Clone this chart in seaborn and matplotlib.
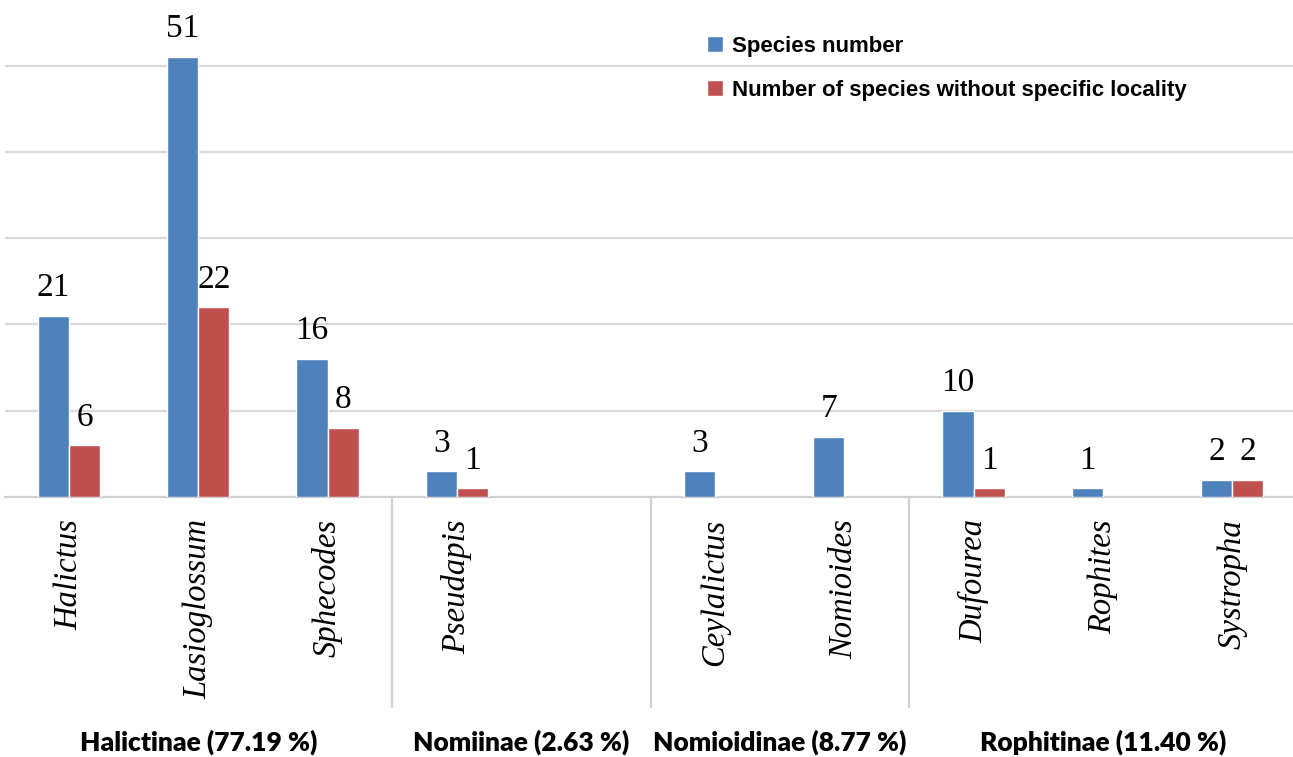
import matplotlib
matplotlib.use("Agg")
import matplotlib.pyplot as plt
import matplotlib.transforms as mtransforms
import seaborn as sns
import pandas as pd

# Genera of Halictidae and their species counts
genera = ["Halictus", "Lasioglossum", "Sphecodes", "Pseudapis", "",
          "Ceylalictus", "Nomioides", "Dufourea", "Rophites", "Systropha"]
species_number = [21, 51, 16, 3, None, 3, 7, 10, 1, 2]
without_locality = [6, 22, 8, 1, None, 0, 0, 1, 0, 2]

series_names = ["Species number", "Number of species without specific locality"]
series_colors = ["#4F81BD", "#C0504D"]

# Subfamilies: label and the span of genus slots they cover
subfamilies = ["Halictinae (77.19 %)", "Nomiinae (2.63 %)",
               "Nomioidinae (8.77 %)", "Rophitinae (11.40 %)"]
subfamily_spans = [(0, 2), (3, 4), (5, 6), (7, 9)]

rows = []
for g, a, b in zip(genera, species_number, without_locality):
    for name, v in zip(series_names, (a, b)):
        if v:
            rows.append({"genus": g, "series": name, "count": v})
df = pd.DataFrame(rows)

sns.set_style("white")
plt.rcParams["text.color"] = "black"
plt.rcParams["xtick.color"] = "black"
W, H = 1293, 757
fig = plt.figure(figsize=(W / 100, H / 100), dpi=100)
ax_left, ax_right, ax_bottom = 4.5, 1296.5, 497
ax = fig.add_axes([ax_left / W, (H - ax_bottom) / H,
                   (ax_right - ax_left) / W, ax_bottom / H])

sns.barplot(data=df, x="genus", y="count", hue="series", order=genera,
            hue_order=series_names, palette=series_colors, width=0.48,
            saturation=1, ax=ax, legend=True, zorder=3)

ax.set_xlim(-0.5, len(genera) - 0.5)
ax.set_ylim(0, 57.6)
ax.set_yticks([10, 20, 30, 40, 50])
ax.set_yticklabels([])
ax.yaxis.grid(True, color="#D9D9D9", linewidth=1.6, zorder=0)
ax.set_axisbelow(True)
ax.tick_params(axis="both", length=0)
for side in ("top", "right", "left"):
    ax.spines[side].set_visible(False)
ax.spines["bottom"].set_color("#D0D0D0")
ax.spines["bottom"].set_linewidth(1.6)
ax.set_xlabel("")
ax.set_ylabel("")

ax.set_xticks(range(len(genera)))
ax.set_xticklabels(genera, rotation=90, fontstyle="italic",
                   family="Liberation Serif", fontsize=23.5, va="top",
                   color="black")
ax.tick_params(axis="x", pad=16)

for cont in ax.containers:
    ax.bar_label(cont, fmt="%d", padding=9, fontsize=24,
                 family="Liberation Serif", color="black")

# Subfamily separators and labels below the genus names
trans = mtransforms.blended_transform_factory(ax.transData, ax.transAxes)
sep_bottom = -(707 - ax_bottom) / ax_bottom
for (s0, s1) in subfamily_spans[:-1]:
    ax.plot([s1 + 0.5, s1 + 0.5], [0, sep_bottom], transform=trans,
            color="#D0D0D0", linewidth=1.6, clip_on=False)
label_y = -(742 - ax_bottom) / ax_bottom
for name, (s0, s1) in zip(subfamilies, subfamily_spans):
    ax.text((s0 + s1) / 2, label_y, name, transform=trans, ha="center",
            va="center", fontsize=19, fontweight="heavy", family="Lato",
            color="black")

leg = ax.legend(loc="upper left", bbox_to_anchor=(707 / W, 1 - 36 / H),
                bbox_transform=fig.transFigure, frameon=False, title=None,
                prop={"family": "Liberation Sans", "weight": "bold", "size": 16},
                handlelength=0.73, handleheight=0.73, handletextpad=0.41,
                labelspacing=1.02, borderpad=0, borderaxespad=0)
for t in leg.get_texts():
    t.set_color("black")

fig.savefig("out.png", dpi=100)
